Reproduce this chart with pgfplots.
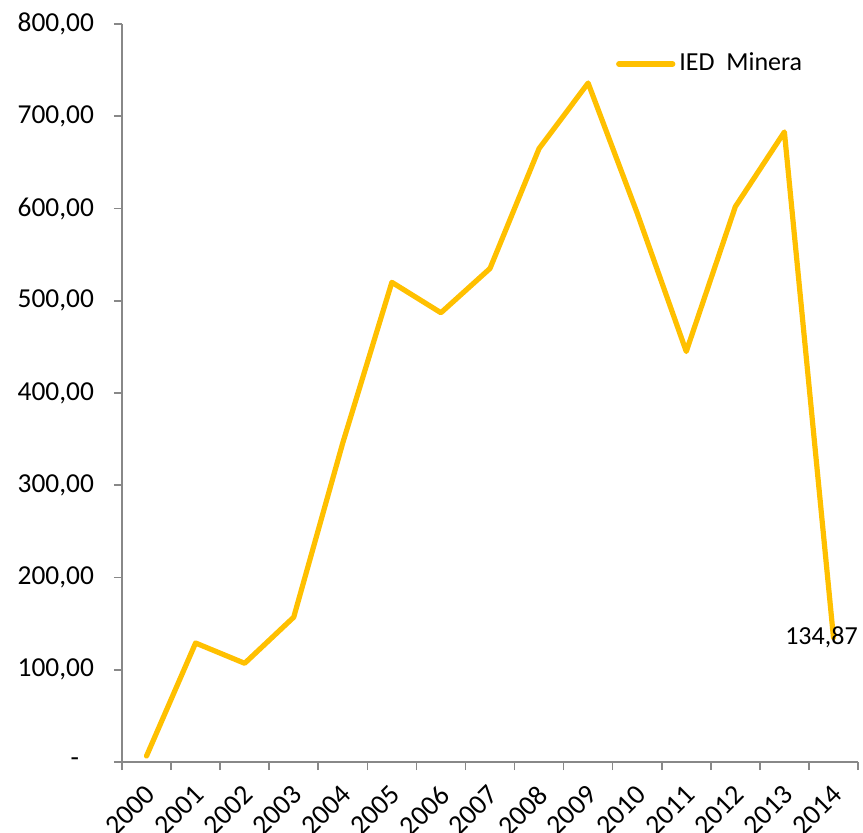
\documentclass[border=0pt]{standalone}
\usepackage{fontspec}
\setmainfont{Carlito}
\usepackage{pgfplots}
\pgfplotsset{compat=1.18}
\definecolor{ied}{HTML}{FFC000}
\definecolor{axgray}{HTML}{888888}

\begin{document}
\fontsize{13pt}{15pt}\selectfont
\begin{tikzpicture}
\path[use as bounding box] (-61pt,-35pt) rectangle (370.5pt,381pt);
\begin{axis}[
    scale only axis, width=368pt, height=369pt,
    xmin=-0.5, xmax=14.5, ymin=0, ymax=800,
    axis lines=left, axis line style={-, draw=axgray, line width=0.8pt},
    tick align=outside, major tick length=4pt,
    tick style={draw=axgray, line width=0.8pt},
    xtick={-0.5,0.5,...,14.5}, x tick label as interval,
    xticklabels={2000,2001,2002,2003,2004,2005,2006,2007,2008,2009,2010,2011,2012,2013,2014},
    xticklabel style={xshift=5pt, yshift=-7pt, rotate=45, anchor=east,
        font=\fontsize{14pt}{16pt}\selectfont},
    ytick={0,100,...,800},
    yticklabels={{-\rule{7.5pt}{0pt}},{100,00},{200,00},{300,00},{400,00},{500,00},{600,00},{700,00},{800,00}},
    yticklabel style={xshift=-5.5pt, font=\fontsize{13.7pt}{16pt}\selectfont},
    legend style={at={(0.6627,0.972)}, anchor=north west, draw=none, fill=none,
        font=\fontsize{13pt}{15pt}\selectfont},
    legend image code/.code={\draw[#1] (-4pt,0pt) -- (23pt,0pt);},
    clip=false,
]
\addplot[ied, line width=2.6pt, line join=round, line cap=round] coordinates {
    (0,6.5) (1,129) (2,107) (3,157) (4,346) (5,520) (6,487) (7,535)
    (8,665) (9,736) (10,595) (11,445) (12,602) (13,683) (14,134.87)};
\addlegendentry{IED\ \ Minera}
\addplot[draw=none, point meta=explicit symbolic, nodes near coords,
    nodes near coords style={anchor=center, xshift=-6pt, text=black,
        font=\fontsize{13pt}{15pt}\selectfont}, forget plot]
    coordinates {(14,134.87) [134,87]};
\end{axis}
\end{tikzpicture}
\end{document}
